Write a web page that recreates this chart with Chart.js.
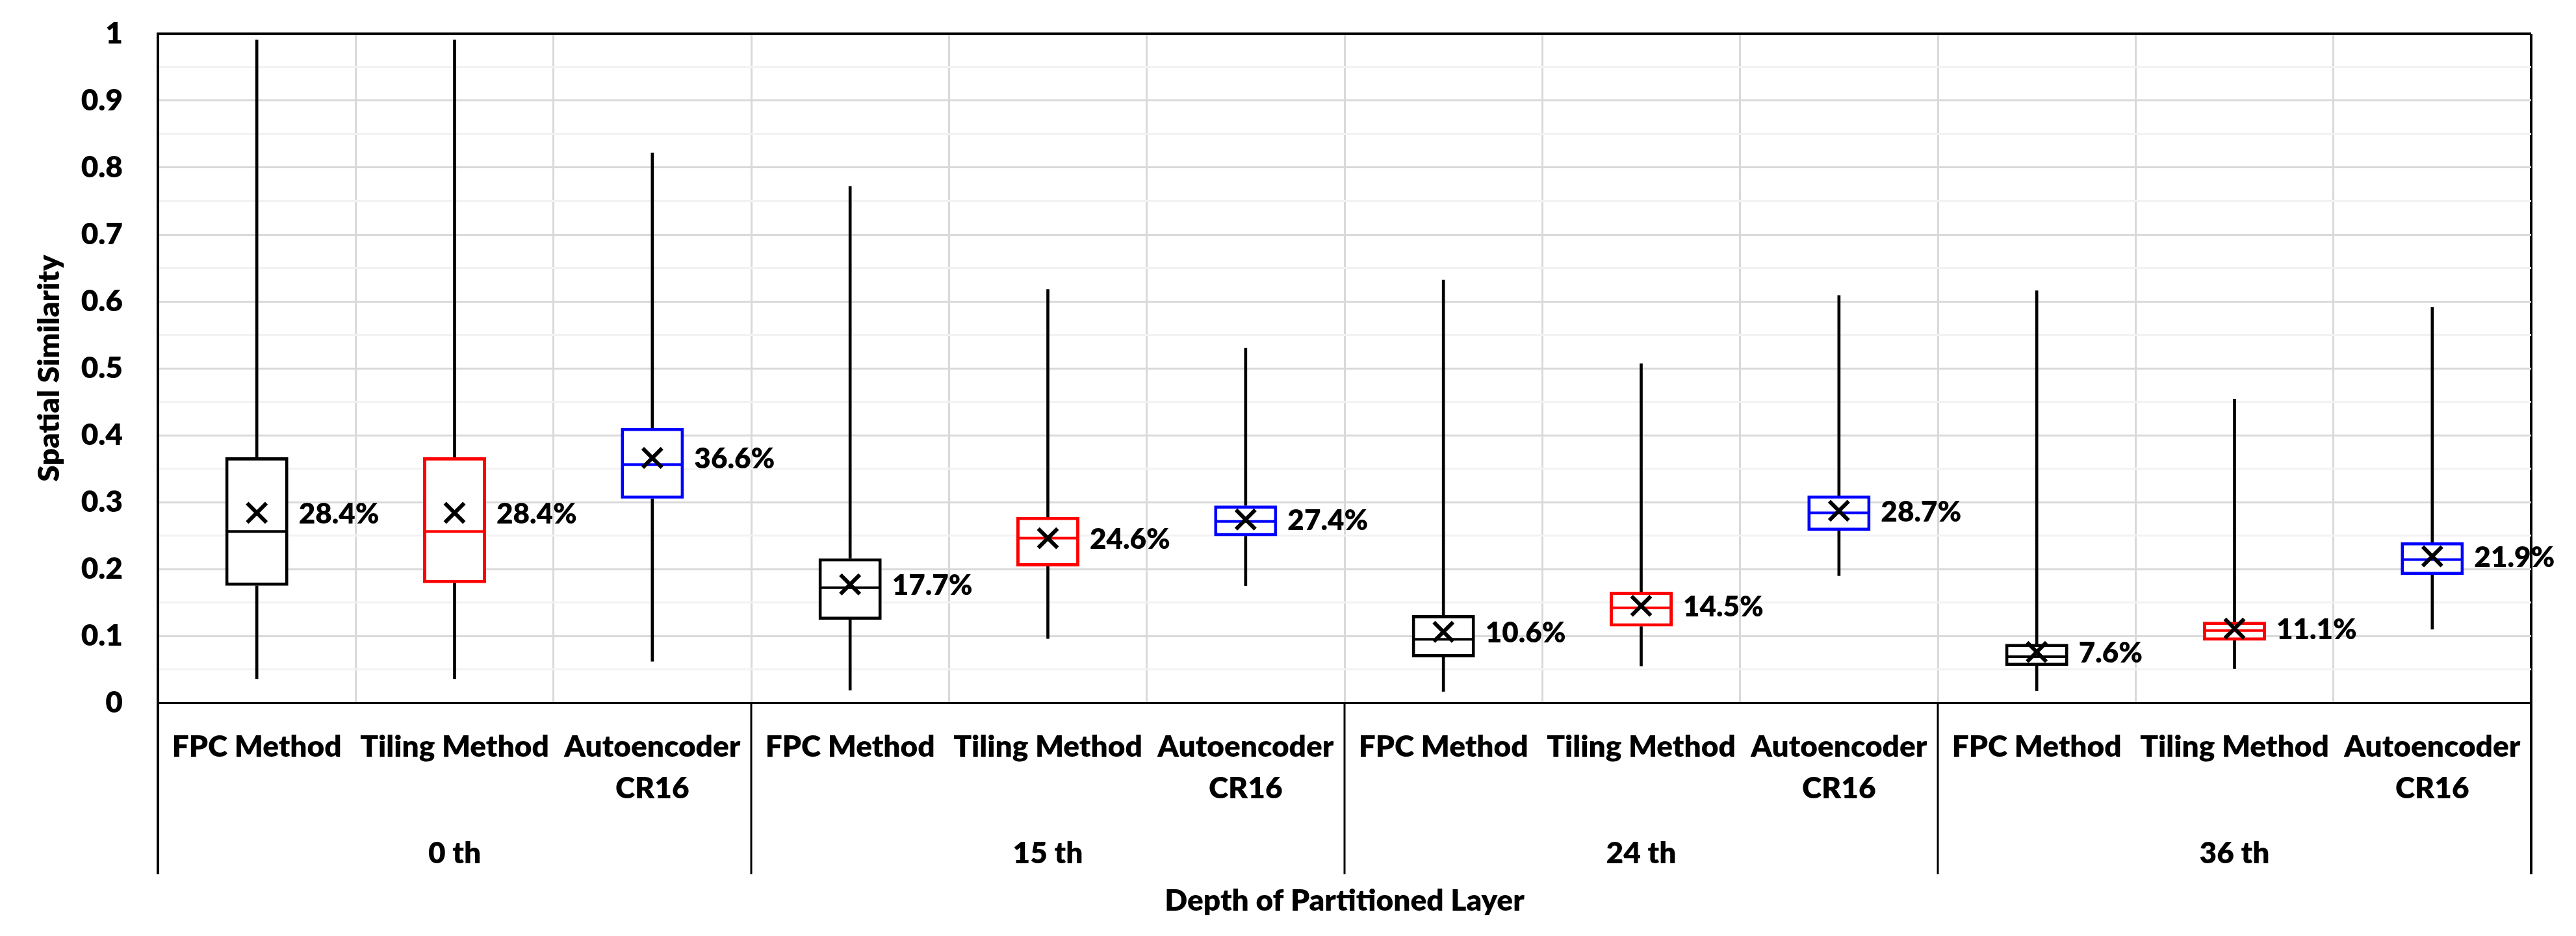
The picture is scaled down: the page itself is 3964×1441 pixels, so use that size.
<!DOCTYPE html>
<html>
<head>
<meta charset="utf-8">
<script src="https://cdn.jsdelivr.net/npm/chart.js@4.4.1/dist/chart.umd.min.js"></script>
<style>
  html, body { margin: 0; padding: 0; background: #ffffff; }
  #wrap { width: 3964px; height: 1441px; position: relative; }
</style>
</head>
<body>
<div id="wrap"><canvas id="c"></canvas></div>
<script>
// ---------- data ----------
const methods = ['FPC Method', 'Tiling Method', ['Autoencoder', 'CR16']];
const depths = ['0 th', '15 th', '24 th', '36 th'];
const categories = depths.flatMap(() => methods);

const whiskerMin = [0.036, 0.036, 0.062, 0.019, 0.096, 0.175, 0.017, 0.055, 0.190, 0.018, 0.051, 0.110];
const q1         = [0.175, 0.179, 0.305, 0.124, 0.204, 0.249, 0.068, 0.114, 0.257, 0.055, 0.093, 0.191];
const median     = [0.256, 0.256, 0.356, 0.172, 0.246, 0.271, 0.095, 0.142, 0.284, 0.069, 0.108, 0.214];
const q3         = [0.367, 0.367, 0.411, 0.216, 0.278, 0.295, 0.131, 0.166, 0.310, 0.088, 0.121, 0.240];
const whiskerMax = [0.991, 0.991, 0.822, 0.772, 0.618, 0.530, 0.632, 0.507, 0.609, 0.616, 0.454, 0.591];
const mean       = [0.284, 0.284, 0.366, 0.177, 0.246, 0.274, 0.106, 0.145, 0.287, 0.076, 0.111, 0.219];

const yTitle = 'Spatial Similarity';
const xTitle = 'Depth of Partitioned Layer';

// ---------- style ----------
const methodColors = ['#000000', '#ff0000', '#0000ff'];
const FONT = 'Lato';
const FW = 800;
const FS = 46;
const boxPct = 0.319;
const xTickPad = 36, xLineH = 64;
const x2TickPad = 36;
const titleLH = 1.2;
const x2TitlePad = { top: 13.4, bottom: 26.4 };

const colorAt = i => methodColors[i % methods.length];
const boxHalf = chart => chart.scales.x.width / categories.length * boxPct / 2;

const meanLabels = {
  id: 'meanLabels',
  afterDatasetsDraw(chart) {
    const meta = chart.getDatasetMeta(0);
    const ctx = chart.ctx;
    const half = boxHalf(chart);
    ctx.save();
    ctx.font = FW + ' 44px ' + FONT;
    ctx.fillStyle = '#000';
    ctx.textAlign = 'left';
    ctx.textBaseline = 'middle';
    meta.data.forEach((pt, i) => {
      ctx.fillText((mean[i] * 100).toFixed(1) + '%', pt.x + half + 16, pt.y + 2);
    });
    ctx.restore();
  }
};

const groupSeparators = {
  id: 'groupSeparators',
  afterDraw(chart) {
    const x = chart.scales.x, x2 = chart.scales.x2;
    const ctx = chart.ctx;
    const catW = x.width / categories.length;
    const yEnd = x2.top + x2TickPad + xLineH;
    ctx.save();
    ctx.strokeStyle = '#000';
    for (let g = 0; g <= depths.length; g++) {
      const px = x.left + g * methods.length * catW;
      ctx.lineWidth = (g === 0 || g === depths.length) ? 4 : 3;
      ctx.beginPath();
      ctx.moveTo(px, x.top);
      ctx.lineTo(px, yEnd);
      ctx.stroke();
    }
    ctx.restore();
  }
};

Chart.defaults.font.family = FONT;
Chart.defaults.color = '#000';

new Chart(document.getElementById('c'), {
  type: 'bar',
  data: {
    labels: categories,
    datasets: [
      {
        type: 'line', label: 'mean', data: mean, showLine: false,
        pointStyle: 'crossRot', pointRadius: 21, pointBorderWidth: 6,
        pointBorderColor: '#000', pointBackgroundColor: '#000'
      },
      {
        type: 'line', label: 'median', data: median, showLine: false,
        pointStyle: 'line', pointRadius: c => boxHalf(c.chart) - 2, pointBorderWidth: 4,
        pointBorderColor: c => colorAt(c.dataIndex)
      },
      {
        label: 'box', data: q1.map((v, i) => [v, q3[i]]),
        backgroundColor: '#ffffff', borderColor: c => colorAt(c.dataIndex),
        borderWidth: 5, borderSkipped: false,
        grouped: false, categoryPercentage: 1, barPercentage: boxPct
      },
      {
        label: 'lower whisker', data: q1.map((v, i) => [whiskerMin[i], v]),
        backgroundColor: '#000', borderWidth: 0, grouped: false, barThickness: 4
      },
      {
        label: 'upper whisker', data: q3.map((v, i) => [v, whiskerMax[i]]),
        backgroundColor: '#000', borderWidth: 0, grouped: false, barThickness: 4
      }
    ]
  },
  options: {
    responsive: true,
    maintainAspectRatio: false,
    devicePixelRatio: 1,
    animation: false,
    events: [],
    layout: { padding: { top: 52, right: 69, left: 0, bottom: 0 } },
    plugins: { legend: { display: false }, tooltip: { enabled: false } },
    scales: {
      x: {
        type: 'category', offset: true, position: 'bottom',
        afterFit: s => { s.height = xTickPad + 2 * xLineH; },
        grid: {
          offset: true, drawTicks: false,
          color: c => (c.tick ? '#d9d9d9' : '#000'),
          lineWidth: c => (c.tick ? 3 : 4)
        },
        border: { display: true, color: '#000', width: 3 },
        ticks: {
          autoSkip: false, maxRotation: 0, minRotation: 0, padding: xTickPad,
          font: { size: FS, weight: FW, lineHeight: xLineH / FS }, color: '#000'
        }
      },
      x2: {
        type: 'category', labels: depths, offset: true, position: 'bottom',
        afterFit: s => { s.height = x2TickPad + xLineH + FS * titleLH + x2TitlePad.top + x2TitlePad.bottom; },
        grid: { display: false, drawTicks: false }, border: { display: false },
        ticks: {
          autoSkip: false, maxRotation: 0, padding: x2TickPad,
          font: { size: FS, weight: FW, lineHeight: xLineH / FS }, color: '#000'
        },
        title: {
          display: true, text: xTitle, color: '#000',
          font: { size: FS, weight: FW, lineHeight: titleLH },
          padding: x2TitlePad
        }
      },
      y: {
        min: 0, max: 1,
        afterFit: s => { s.width = 243; },
        grid: {
          drawTicks: true, tickLength: 54, tickColor: 'rgba(0,0,0,0)',
          color: c => {
            const v = c.tick ? c.tick.value : 0;
            if (Math.abs(v - 1) < 1e-6) return '#000';
            return Math.round(v * 100) % 10 === 0 ? '#d9d9d9' : '#f2f2f2';
          },
          lineWidth: c => (c.tick && Math.abs(c.tick.value - 1) < 1e-6 ? 4 : 3)
        },
        border: { display: true, color: '#000', width: 4 },
        ticks: {
          stepSize: 0.05, autoSkip: false, padding: 0, color: '#000',
          font: { size: FS, weight: FW },
          callback: v => (Math.round(v * 100) % 10 === 0 ? String(Number(v.toFixed(1))) : '')
        },
        title: {
          display: true, text: yTitle, color: '#000',
          font: { size: FS, weight: FW, lineHeight: titleLH },
          padding: { top: 49, bottom: 0 }
        }
      }
    }
  },
  plugins: [meanLabels, groupSeparators]
});
</script>
</body>
</html>
